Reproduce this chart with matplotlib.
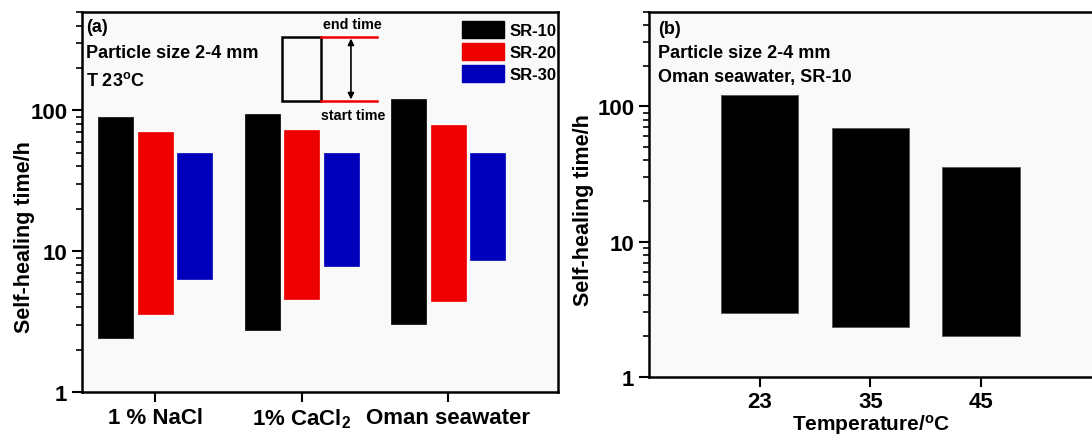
import matplotlib
matplotlib.use('Agg')
import matplotlib.pyplot as plt
import numpy as np
from matplotlib.patches import Patch, Rectangle
from matplotlib.ticker import LogLocator, NullFormatter, FixedLocator

plt.rcParams['font.family'] = ['Liberation Sans', 'DejaVu Sans']
plt.rcParams['font.weight'] = 'bold'
plt.rcParams['axes.labelweight'] = 'bold'
plt.rcParams['mathtext.fontset'] = 'custom'
plt.rcParams['mathtext.rm'] = 'Liberation Sans:bold'
plt.rcParams['mathtext.default'] = 'rm'

# panel (a): start / end self-healing time (h)
media = ['1 % NaCl', '1% CaCl$_2$', 'Oman seawater']
series = ['SR-10', 'SR-20', 'SR-30']
start_a = {'SR-10': [2.4, 2.75, 3.05],
           'SR-20': [3.6, 4.6, 4.4],
           'SR-30': [6.3, 7.8, 8.6]}
end_a = {'SR-10': [90, 94, 120],
         'SR-20': [70, 72, 79],
         'SR-30': [50, 50, 50]}
colors = {'SR-10': '#000000', 'SR-20': '#ee0000', 'SR-30': '#0000bb'}

# panel (b): Oman seawater, SR-10 at different temperatures
temps = ['23', '35', '45']
start_b = [2.95, 2.35, 2.0]
end_b = [121, 69, 35.5]

fig = plt.figure(figsize=(10.92, 4.39), dpi=100)
fig.patch.set_facecolor('white')

ax = fig.add_axes([0.0751, 0.1048, 0.4359, 0.8656])
ax2 = fig.add_axes([0.5943, 0.1396, 0.4075, 0.8307])

def style(a):
    a.set_facecolor('#f9f9f9')
    a.set_yscale('log')
    a.set_ylim(1, 500)
    for s in a.spines.values():
        s.set_linewidth(1.8)
    a.tick_params(axis='both', which='major', direction='out', length=7, width=1.5)
    a.tick_params(axis='y', which='major', labelsize=16)
    a.tick_params(axis='y', which='minor', direction='out', length=4, width=1.2)
    a.tick_params(axis='x', which='minor', bottom=False)
    a.yaxis.set_major_locator(FixedLocator([1, 10, 100]))
    a.set_yticklabels(['1', '10', '100'])
    a.yaxis.set_minor_locator(LogLocator(base=10, subs=np.arange(2, 10)))
    a.yaxis.set_minor_formatter(NullFormatter())
    a.set_ylabel('Self-healing time/h', fontsize=15.5)

style(ax)
style(ax2)

x = np.arange(1, len(media) + 1)
offs = [-0.27, 0.0, 0.27]
for k, s in enumerate(series):
    lo = np.array(start_a[s])
    hi = np.array(end_a[s])
    ax.bar(x + offs[k], hi - lo, bottom=lo, width=0.24, color=colors[s],
           edgecolor=colors[s], linewidth=0.5, label=s)
ax.set_xlim(0.5, 3.75)
ax.set_xticks(x)
ax.set_xticklabels(media, fontsize=16)
ax.yaxis.set_label_coords(-0.099, 0.41)

ax.text(0.008, 0.963, '(a)', transform=ax.transAxes, fontsize=13, va='center')
ax.text(0.008, 0.893, 'Particle size 2-4 mm', transform=ax.transAxes, fontsize=13, va='center')
ax.text(0.008, 0.82, 'T 23$^{\\rm o}$C', transform=ax.transAxes, fontsize=13, va='center')

# schematic of one bar
ax.add_patch(Rectangle((0.420, 0.766), 0.082, 0.168, transform=ax.transAxes,
                       fill=False, edgecolor='black', linewidth=1.8))
ax.plot([0.502, 0.620], [0.934, 0.934], color='#ee0000', lw=1.8, transform=ax.transAxes)
ax.plot([0.502, 0.620], [0.766, 0.766], color='#ee0000', lw=1.8, transform=ax.transAxes)
ax.annotate('', xy=(0.565, 0.930), xytext=(0.565, 0.770), xycoords='axes fraction',
            arrowprops=dict(arrowstyle='<|-|>', color='black', lw=1.2,
                            mutation_scale=9, shrinkA=0, shrinkB=0))
ax.text(0.569, 0.968, 'end time', transform=ax.transAxes, fontsize=10.3,
        ha='center', va='center')
ax.text(0.569, 0.729, 'start time', transform=ax.transAxes, fontsize=10.3,
        ha='center', va='center')

handles = [Patch(facecolor=colors[s], edgecolor=colors[s], label=s) for s in series]
ax.legend(handles=handles, loc='upper right', bbox_to_anchor=(1.024, 1.012),
          frameon=False, fontsize=12, handlelength=2.55, handleheight=1.2,
          labelspacing=0.3, handletextpad=0.3, borderpad=0.3)

# panel (b)
xb = np.arange(1, len(temps) + 1)
ax2.bar(xb, np.array(end_b) - np.array(start_b), bottom=start_b, width=0.7,
        color='black', edgecolor='#555555', linewidth=0.6)
ax2.set_xlim(0, 4.02)
ax2.set_xticks(xb)
ax2.set_xticklabels(temps, fontsize=16)
ax2.set_xlabel('Temperature/$^{\\rm o}$C', fontsize=15, labelpad=0)
ax2.yaxis.set_label_coords(-0.124, 0.46)
ax2.text(0.02, 0.955, '(b)', transform=ax2.transAxes, fontsize=13, va='center')
ax2.text(0.02, 0.89, 'Particle size 2-4 mm', transform=ax2.transAxes, fontsize=13, va='center')
ax2.text(0.02, 0.822, 'Oman seawater, SR-10', transform=ax2.transAxes, fontsize=13, va='center')

fig.savefig('out.png', dpi=100)
